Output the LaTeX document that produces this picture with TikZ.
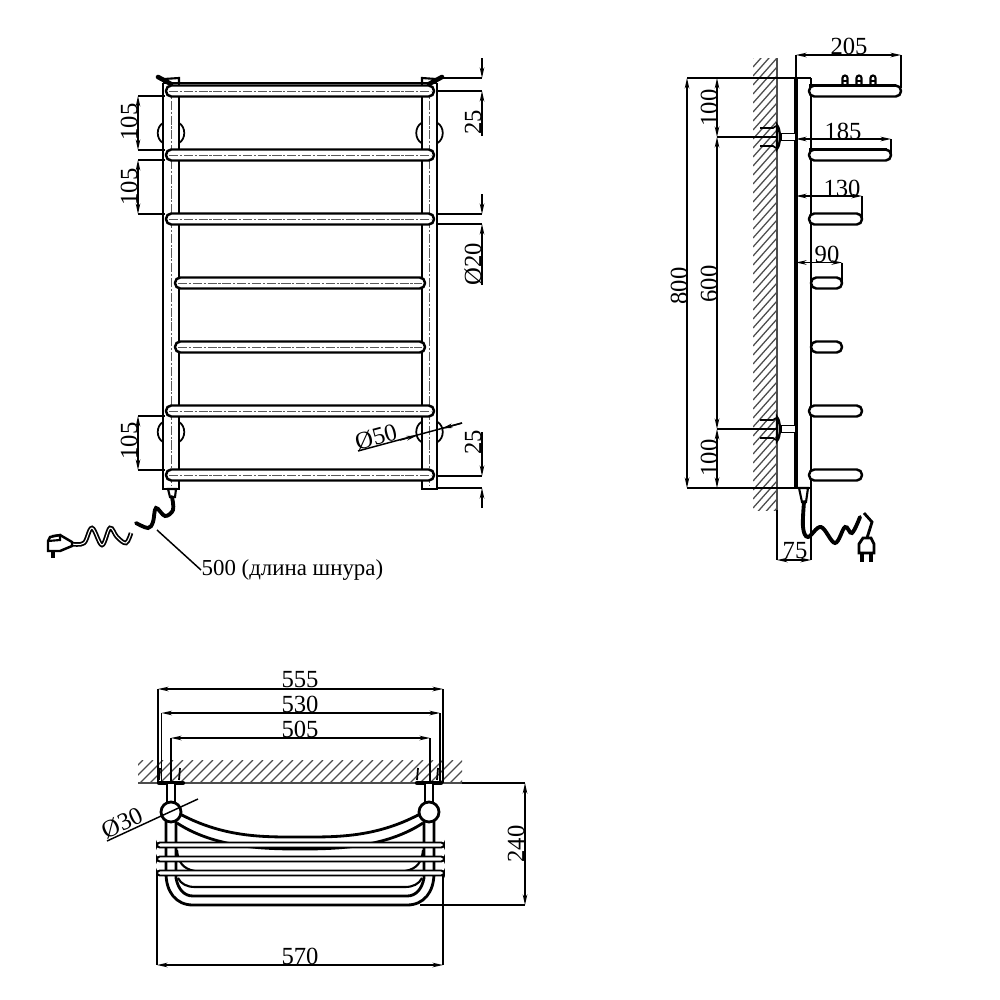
\documentclass[tikz,border=0pt]{standalone}
\usepackage{fontspec}
\setmainfont{Liberation Serif}
\usetikzlibrary{arrows.meta}
\tikzset{
  tube/.style={line width=0.8pt,black},
  railbox/.style={line width=0.7pt,black,fill=white,rounded corners=1.5pt},
  shelfbox/.style={line width=0.55pt,black,fill=white,rounded corners=0.8pt},
  axisline/.style={line width=0.25pt,black!65,dash pattern=on 2.6pt off 0.5pt on 0.6pt off 0.5pt},
  thinline/.style={line width=0.42pt,black},
  dimline/.style={line width=0.42pt,black,{Stealth[length=3pt,width=1.3pt]}-{Stealth[length=3pt,width=1.3pt]}},
  hatchline/.style={line width=0.36pt,black!70},
  cord/.style={line width=1.1pt,black,line cap=round},
  cordtwin/.style={line width=0.5pt,black,double=white,double distance=0.3pt},
  dimtext/.style={inner sep=0pt,font=\fontsize{7}{8}\selectfont},
}
\begin{document}
\begin{tikzpicture}[x=0.01cm,y=-0.01cm]
  \useasboundingbox (0,0) rectangle (1000,1000);

  % Front view: frame
  \foreach \xa/\xb in {163/179,422/437} {
    \draw[tube] (\xa,83) -- (\xa,489) -- (\xb,489) -- (\xb,83);
    \draw[axisline] ({(\xa+\xb)/2},86) -- ({(\xa+\xb)/2},486);
  }
  \draw[tube] (163,83) -- (437,83);
  % Front view: wall brackets
  \foreach \cx/\cy in {171/133,429.5/133,171/432,429.5/432} {
    \draw[thinline,line width=0.5pt] (\cx-8,\cy-10) .. controls (\cx-15,\cy-6) and (\cx-15,\cy+6) .. (\cx-8,\cy+10);
    \draw[thinline,line width=0.5pt] (\cx+8,\cy-10) .. controls (\cx+15,\cy-6) and (\cx+15,\cy+6) .. (\cx+8,\cy+10);
  }
  % Front view: clips on top
  \draw[cord,line width=1.3pt] (158,77) -- (171,84);
  \draw[thinline,line width=0.6pt] (164,79) -- (179,78) -- (179,83);
  \draw[cord,line width=1.3pt] (442,77) -- (429,84);
  \draw[thinline,line width=0.6pt] (436,79) -- (422,78) -- (422,83);

  % Front view: dimensions
  \draw[dimline] (138,96) -- (138,150);
  \draw[dimline] (138,160) -- (138,214);
  \draw[dimline] (138,416) -- (138,470);
  \foreach \ya/\yb/\xe in {96/150/165,160/214/165,416/470/165} {
    \draw[thinline] (138,\ya) -- (\xe,\ya);
    \draw[thinline] (138,\yb) -- (\xe,\yb);
  }
  \node[dimtext,rotate=90] (lbla) at (129,122) {105};
  \node[dimtext,rotate=90] (lblb) at (129,187) {105};
  \node[dimtext,rotate=90] (lblc) at (129,441) {105};
  % outer dimensions on the right
  \foreach \ya/\yb/\ytop/\yend in {78/91/58/136,214/224/194/285,476/488/432/508} {
    \draw[thinline] (437,\ya) -- (482,\ya);
    \draw[thinline] (437,\yb) -- (482,\yb);
    \draw[thinline,-{Stealth[length=3pt,width=1.3pt]}] (482,\ytop) -- (482,\ya);
    \draw[thinline,-{Stealth[length=3pt,width=1.3pt]}] (482,\yend) -- (482,\yb);
  }
  \node[dimtext,rotate=90] (lbld) at (473,122) {25};
  \node[dimtext,rotate=90] (lble) at (473,264) {Ø20};
  \node[dimtext,rotate=90] (lblf) at (473,442) {25};

  % Front view: rails
  \foreach \yc/\xl/\xr in {91/166/434,155/166/434,219/166/434,283/175/425,347/175/425,411/166/434,475/166/434} {
    \draw[railbox] (\xl,\yc-5.5) rectangle (\xr,\yc+5.5);
    \draw[axisline] (\xl+3,\yc) -- (\xr-3,\yc);
  }

  % Front view: leader of the large bracket
  \draw[thinline] (358,451) -- (462,423);
  \draw[thinline,-{Stealth[length=3pt,width=1.3pt]}] (400,440) -- (417,435.5);
  \draw[thinline,-{Stealth[length=3pt,width=1.3pt]}] (462,423) -- (442,428.5);
  \node[dimtext,rotate=15] (lblg) at (376,437) {Ø50};

  % Front view: cord and plug
  \draw[thinline,line width=0.6pt,fill=white] (168,489) -- (176,489) -- (175,497) -- (170,497) -- cycle;
  \draw[cord] plot[smooth,tension=0.6] coordinates {(172,497) (173,510) (165,516) (156,508) (153,522) (148,528) (136,523)};
  \draw[cordtwin] plot[smooth,tension=0.6] coordinates {(131,533) (126,543) (117,537) (110,528) (102,545) (92,528) (84,543) (72,544)};
  \draw[thinline,line width=0.7pt,fill=white] (72,542) -- (60,535) -- (50,537) -- (48,541) -- (48,551) -- (60,551) -- (72,546) -- cycle;
  \draw[thinline,line width=1pt] (53,551) -- (53,558);
  \draw[thinline,line width=0.7pt] (48,551) -- (60,551);
  \draw[thinline,line width=0.6pt] (52,536) -- (60,535) -- (60,540) -- (48,541);
  \node[dimtext,anchor=west,font=\fontsize{6.5}{8}\selectfont] (lblcord) at (201,570) {500 (длина шнура)};
  \coordinate (cordend) at (157,530);
  \draw[thinline] (cordend) -- (lblcord.west);

  % Side view: wall
  \begin{scope}
    \clip (753,58) rectangle (777,510);
    \foreach \h in {58,67,...,560} {
      \draw[hatchline] (753,\h) -- (777,\h-27);
    }
  \end{scope}
  \draw[hatchline] (777,58) -- (777,510);

  % Side view: frame
  \draw[tube,line width=0.95pt] (796,78) -- (796,488);
  \draw[tube] (811,78) -- (811,488);
  \draw[thinline,line width=0.5pt] (687,78) -- (811,78);
  \draw[thinline,line width=0.5pt] (687,488) -- (811,488);

  % Side view: rails
  \foreach \yc/\xl/\xr in {91/809/901,155/809/891,219/809/862,283/811/842,347/811/842,411/809/862,475/809/862} {
    \draw[railbox] (\xl,\yc-5.5) rectangle (\xr,\yc+5.5);
  }
  \foreach \xb in {845,859,873} {
    \draw[thinline,line width=0.6pt] (\xb-2.5,85) -- (\xb-2.5,78) arc[start angle=180,end angle=360,x radius=2.5,y radius=2.5] -- (\xb+2.5,85);
    \draw[thinline,line width=0.4pt] (\xb-2.5,81) -- (\xb+2.5,81);
  }
  \draw[thinline,line width=0.9pt] (809,85.5) -- (896,85.5);
  \draw[thinline,line width=0.9pt] (809,149.5) -- (887,149.5);

  % Side view: mounts
  \foreach \yc in {137,429} {
    \draw[thinline] (717,\yc) -- (781,\yc);
    \draw[thinline,line width=0.6pt,fill=white] (777,\yc-12) .. controls (781,\yc-8) and (781,\yc+8) .. (777,\yc+12) -- cycle;
    \draw[thinline,line width=0.5pt,fill=white] (781,\yc-3.5) rectangle (796,\yc+3.5);
    \draw[thinline,line width=0.5pt] (760,\yc-9) -- (773,\yc-9) -- (776,\yc-11);
    \draw[thinline,line width=0.5pt] (760,\yc+9) -- (773,\yc+9) -- (776,\yc+11);
  }

  % Side view: dimensions
  \draw[dimline] (687,78) -- (687,488);
  \draw[dimline] (717,78) -- (717,137);
  \draw[dimline] (717,137) -- (717,429);
  \draw[dimline] (717,429) -- (717,488);
  \node[dimtext,rotate=90] (lblh) at (679,286) {800};
  \node[dimtext,rotate=90] (lbli) at (709,108) {100};
  \node[dimtext,rotate=90] (lblj) at (709,284) {600};
  \node[dimtext,rotate=90] (lblk) at (709,458) {100};
  \draw[thinline] (796,55) -- (796,78);
  \foreach \yd/\xe/\yend/\ttx/\tty/\ttl/\nm in {55/901/88/849/46/205/lbll,139/891/155/843/131/185/lblm,196/862/219/842/188/130/lbln,262.5/842/283/827/254/90/lblo} {
    \draw[dimline] (796,\yd) -- (\xe,\yd);
    \draw[thinline] (\xe,\yd) -- (\xe,\yend);
    \node[dimtext] (\nm) at (\ttx,\tty) {\ttl};
  }
  \draw[dimline] (777,560) -- (811,560);
  \draw[thinline] (777,510) -- (777,560);
  \draw[thinline] (811,488) -- (811,560);
  \node[dimtext] (lblp) at (795,551) {75};

  % Side view: cord and plug
  \draw[thinline,line width=0.6pt,fill=white] (799,488) -- (808,488) -- (806,502) -- (802,502) -- cycle;
  \draw[cord] plot[smooth,tension=0.6] coordinates {(804,502) (803,527) (808,537) (821,527) (835,543) (845,527) (852,533) (860,517)};
  \draw[thinline,line width=0.8pt] (864,513) -- (872,522) -- (867,538);
  \draw[thinline,line width=0.8pt,fill=white] (859,544) -- (863,538) -- (871,538) -- (874,544) -- (874,553) -- (859,553) -- cycle;
  \draw[thinline,line width=1.4pt] (862,553) -- (862,562);
  \draw[thinline,line width=1.4pt] (871,553) -- (871,562);

  % Top view: wall
  \begin{scope}
    \clip (138,760) rectangle (462,783);
    \foreach \h in {120,130,...,470} {
      \draw[hatchline] (\h,783) -- (\h+23,760);
    }
  \end{scope}
  \draw[hatchline] (138,783) -- (462,783);

  % Top view: dimensions
  \foreach \yd/\xa/\xb/\ttl/\nm in {689/158/443/555/lblq,713/161.5/440/530/lblr,738/171/430/505/lbls} {
    \draw[dimline] (\xa,\yd) -- (\xb,\yd);
    \draw[thinline] (\xa,\yd) -- (\xa,783);
    \draw[thinline] (\xb,\yd) -- (\xb,783);
    \node[dimtext] (\nm) at (300,\yd-9) {\ttl};
  }
  \draw[dimline] (157,965) -- (443,965);
  \draw[thinline] (157,873) -- (157,965);
  \draw[thinline] (443,873) -- (443,965);
  \node[dimtext] (lblt) at (300,956) {570};
  \draw[dimline] (525,783) -- (525,905);
  \draw[thinline] (462,783) -- (525,783);
  \draw[thinline] (420,905) -- (525,905);
  \node[dimtext,rotate=90] (lblu) at (516,844) {240};

  % Top view: shelf
  \draw[tube] (166,820) -- (166,873) .. controls (166,892) and (176,905) .. (193,905) -- (407,905) .. controls (424,905) and (434,892) .. (434,873) -- (434,820);
  \draw[tube] (176,820) -- (176,878) .. controls (178,889) and (184,896) .. (193,896) -- (407,896) .. controls (416,896) and (422,889) .. (424,878) -- (424,820);
  \draw[thinline,line width=0.6pt] (178,878) .. controls (181,884) and (187,887) .. (195,887) -- (405,887) .. controls (413,887) and (419,884) .. (422,878);
  \draw[tube] (180,814) .. controls (225,838) and (265,837) .. (300,837) .. controls (335,837) and (375,838) .. (420,814);
  \draw[tube] (177,823) .. controls (215,848) and (265,849) .. (300,849) .. controls (335,849) and (385,848) .. (423,823);
  \draw[thinline,line width=0.6pt] (177,850) .. controls (178,862) and (183,869) .. (195,871);
  \draw[thinline,line width=0.6pt] (423,850) .. controls (422,862) and (417,869) .. (405,871);
  \foreach \yc in {845,859,873} {
    \draw[shelfbox] (157,\yc-2.5) rectangle (444,\yc+2.5);
  }
  % Top view: mounts and balls
  \foreach \cx in {171,429} {
    \draw[thinline,line width=0.5pt] (\cx-11,768) -- (\cx-12,780);
    \draw[thinline,line width=0.5pt] (\cx+9,768) -- (\cx+8,780);
    \draw[cord,line width=1.2pt] (\cx-12,783) -- (\cx+12,783);
    \draw[thinline,line width=0.6pt,fill=white] (\cx-4,783) rectangle (\cx+4,802);
    \draw[tube,fill=white] (\cx,812) circle (10);
  }
  \draw[thinline] (107,841) -- (198,799);
  \node[dimtext,rotate=25] (lblv) at (122,823) {Ø30};
\end{tikzpicture}
\end{document}
